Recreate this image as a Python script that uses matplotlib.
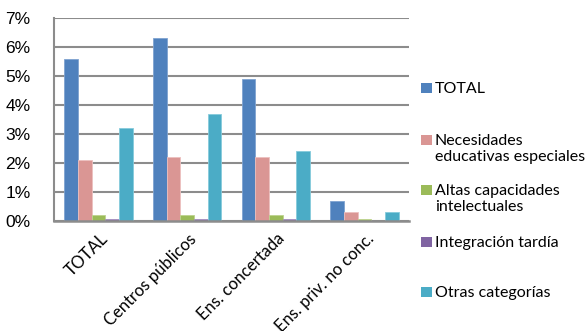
import matplotlib
matplotlib.use("Agg")
import matplotlib.pyplot as plt
import matplotlib.transforms as mtransforms
import numpy as np
from matplotlib.patches import Rectangle

categories = ["TOTAL", "Centros públicos", "Ens. concertada", "Ens. priv. no conc."]
series_names = ["TOTAL", "Necesidades\neducativas especiales", "Altas capacidades\nintelectuales",
                "Integración tardía", "Otras categorías"]
total = [5.6, 6.3, 4.9, 0.7]
nee = [2.1, 2.2, 2.2, 0.3]
altas = [0.2, 0.2, 0.2, 0.07]
integracion = [0.07, 0.07, 0.07, 0.0]
otras = [3.2, 3.7, 2.4, 0.3]
yticks = [0, 1, 2, 3, 4, 5, 6, 7]

series = [total, nee, altas, integracion, otras]
colors = ["#4F81BD", "#DA9694", "#9BBB59", "#8064A2", "#4BACC6"]
edges = ["#7FA3D1", "#EDC0BF", "#BDD38E", "#A690C0", "#86CBDC"]

fig = plt.figure(figsize=(5.88, 3.31), dpi=100)
ax = fig.add_axes([54/588, 1-221/331, (409-54)/588, (221-18)/331])

n = len(series)
w = 1/6.5
x = np.arange(len(categories))
for i, (vals, c, ec) in enumerate(zip(series, colors, edges)):
    offs = (i - (n-1)/2) * w
    ax.bar(x + offs, vals, width=w, color=c, edgecolor=ec, linewidth=0.6, zorder=3)

ax.set_xlim(-0.5, len(categories)-0.5)
ax.set_ylim(0, 7)
ax.set_yticks(yticks)
ax.set_yticklabels([f"{t}%" for t in yticks], fontfamily="Liberation Sans", fontsize=12.5)
ax.yaxis.grid(True, color="#8C8C8C", linewidth=1.5, zorder=0)
ax.set_axisbelow(True)
ax.tick_params(axis="y", length=0, pad=17)
ax.tick_params(axis="x", length=0, pad=7)
ax.set_xticks(x)
labels = ax.set_xticklabels(categories, rotation=45, ha="right", va="top", rotation_mode="anchor",
                            fontfamily="Lato", fontsize=12)
shift = mtransforms.ScaledTranslation(1/100, 0, fig.dpi_scale_trans)
for lab in labels:
    lab.set_transform(lab.get_transform() + shift)
for s in ["top", "right"]:
    ax.spines[s].set_visible(False)
ax.spines["left"].set_color("#8C8C8C")
ax.spines["left"].set_linewidth(1.5)
ax.spines["bottom"].set_color("#8C8C8C")
ax.spines["bottom"].set_linewidth(1.8)
ax.spines["bottom"].set_zorder(4)

# legend drawn manually to mimic Excel layout
ys = [88, 140, 190, 242, 292]
for name, c, y in zip(series_names, colors, ys):
    fig.add_artist(Rectangle((421/588, 1-(y+5)/331), 10.5/588, 10.5/331,
                             transform=fig.transFigure, facecolor=c, edgecolor="none"))
    fig.text(435/588, 1-(y-6)/331, name, ha="left", va="top", fontfamily="Lato",
             fontsize=11.5, linespacing=1.2)

fig.savefig("out.png", dpi=100)
